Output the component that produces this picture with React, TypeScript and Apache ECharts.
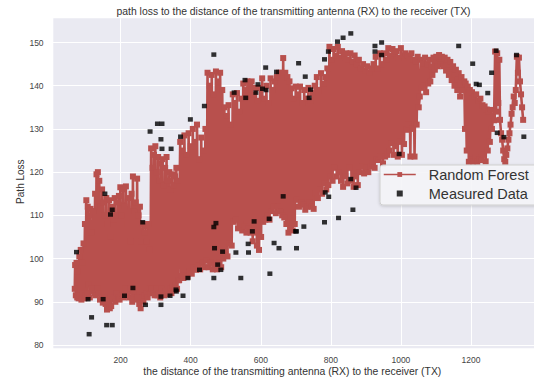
import React, { useEffect, useRef } from 'react';
import * as echarts from 'echarts';

const titleText = 'path loss to the distance of the transmitting antenna (RX) to the receiver (TX)';
const xAxisTitle = 'the distance of the transmitting antenna (RX) to the receiver (TX)';
const yAxisTitle = 'Path Loss';
const seriesNames = ['Random Forest', 'Measured Data'];
const xTickValues = [200, 400, 600, 800, 1000, 1200];
const yTickValues = [80, 90, 100, 110, 120, 130, 140, 150];

// Random Forest prediction, in the order drawn (distance, path loss)
const rfSegA: [number, number][] = [
  [69, 93], [70, 98.5], [72, 91.5], [74, 99], [76, 91], [78, 97], [80, 90.8], [82, 100.5], [84, 91.5], [86, 102],
  [88, 90.5], [90, 99], [92, 92], [94, 103.5], [96, 90.8], [98, 108], [100, 91.5], [102, 113.5], [104, 92], [106, 112],
  [108, 94], [110, 110], [112, 91], [114, 111.5], [116, 93], [118, 106], [120, 92.5], [122, 111], [125, 92], [127, 115],
  [129, 91.5], [131, 119.5], [133, 93], [135, 120], [137, 92], [139, 118], [141, 90.5], [143, 112], [145, 91], [147, 116],
  [149, 89.8], [151, 113], [153, 91], [155, 110], [157, 89.5], [159, 114], [161, 88.2], [163, 108], [165, 90], [167, 113.5],
  [169, 88.5], [171, 105], [173, 89], [175, 112], [177, 90.5], [179, 109], [181, 91], [183, 114], [185, 90], [187, 110],
  [189, 92], [191, 113], [193, 91], [195, 114.5], [197, 90.5], [199, 116.5], [201, 91.5], [203, 110], [205, 92], [207, 116],
  [209, 91], [211, 112], [213, 93], [215, 116.7], [217, 92], [219, 108], [221, 92.5], [223, 114], [225, 91], [227, 104],
  [229, 93], [231, 115], [233, 90], [235, 119], [237, 92], [239, 111], [241, 91], [243, 113], [245, 90.5], [247, 118.5],
  [249, 91], [251, 110], [253, 89.5], [255, 112], [257, 88.5], [259, 104], [261, 91], [263, 108], [265, 90], [267, 106],
  [269, 91.5], [271, 107.5], [273, 92], [275, 104], [277, 91], [279, 108], [281, 93], [283, 102], [285, 92], [287, 125.5],
  [289, 93], [291, 121], [293, 92], [295, 124], [297, 91.5], [299, 126], [301, 93], [303, 120], [305, 91.5], [307, 123.5],
  [309, 92], [311, 118], [313, 91], [315, 122], [317, 93], [319, 123], [321, 92], [323, 117], [325, 91.5], [327, 121],
  [329, 92.5], [331, 123.5], [333, 91.8], [335, 118], [337, 92.5], [339, 120], [341, 93], [343, 116], [345, 92], [347, 119.5],
  [349, 93.5], [351, 117], [353, 92.7], [355, 119], [357, 94], [359, 121], [361, 93], [363, 118], [365, 95]
];
const rfSegB: [number, number][] = [
  [367, 95], [370, 127], [373, 96], [376, 125], [379, 95.5], [382, 128.5], [385, 96], [388, 124], [391, 95.8], [394, 129],
  [397, 97], [400, 126], [403, 96.5], [406, 130], [409, 98], [412, 127], [415, 97.4], [418, 131], [421, 98.5], [424, 123],
  [427, 97.5], [430, 128], [433, 99], [436, 125], [439, 98], [442, 130], [445, 99.5], [448, 143], [451, 98], [454, 140],
  [457, 99], [460, 142.5], [463, 97.5], [466, 138], [469, 98.5], [472, 143.3], [475, 97.5], [478, 141], [481, 99], [484, 143],
  [487, 98], [490, 139], [493, 100], [496, 135], [499, 101], [502, 133], [505, 100.5], [508, 135.5], [511, 103.5], [514, 131],
  [517, 103], [520, 138], [523, 108.5], [526, 136], [529, 109], [532, 138.3], [535, 107], [538, 134], [541, 108], [544, 137],
  [547, 106.5], [550, 140.5], [553, 107.5], [556, 139], [559, 106], [562, 141], [565, 107], [568, 140], [571, 106], [574, 141],
  [577, 104], [580, 138], [583, 106], [586, 139.5], [589, 103], [592, 136.5], [595, 102], [598, 139.5], [601, 105], [604, 141.7],
  [607, 108.5], [610, 137], [613, 109], [616, 140], [619, 110], [622, 136], [625, 109], [628, 141.7], [631, 111], [634, 139],
  [637, 112], [640, 141], [643, 110.5], [646, 142], [649, 112], [652, 143], [655, 111], [658, 143], [661, 110], [664, 146.4],
  [667, 109.5], [670, 143], [673, 108], [676, 142], [679, 106], [682, 141], [685, 107], [688, 139.4], [691, 106.5], [694, 137],
  [697, 108], [700, 139.8]
];
const rfSegC: [number, number][] = [
  [703, 113.6], [706, 138], [709, 112], [712, 139.8], [715, 113], [718, 136], [721, 112.5], [724, 139], [727, 111.3], [730, 137],
  [733, 112], [736, 139.5], [739, 113], [742, 136.5], [745, 112], [748, 138.3], [751, 111.5], [754, 140], [757, 115], [760, 142],
  [763, 114], [766, 139], [769, 116], [772, 142.9], [775, 115], [778, 140.5], [781, 117.4], [784, 142], [787, 116], [790, 144],
  [793, 117], [796, 149], [799, 119], [802, 146], [805, 118], [808, 148.5], [811, 121], [814, 147], [817, 119], [820, 149],
  [823, 120], [826, 146.5], [829, 118], [832, 148], [835, 116.6], [838, 147], [841, 119], [844, 147.5], [847, 117.4], [850, 146],
  [853, 121], [856, 147.5], [859, 118], [862, 145.5], [865, 116.6], [868, 147], [871, 119], [874, 145], [877, 117], [880, 146],
  [883, 120], [886, 144], [889, 121.3], [892, 145], [895, 119.7], [898, 143.5], [901, 121], [904, 144.5], [907, 120], [910, 143],
  [913, 121.3], [916, 144], [919, 122], [922, 145], [925, 121], [928, 146.7], [931, 123], [934, 144], [937, 122.8], [940, 147.5],
  [943, 123.6], [946, 145], [949, 122], [952, 147.5], [955, 123.6], [958, 146], [961, 124], [964, 148.7], [967, 125], [970, 147],
  [973, 126.7], [976, 148.5], [979, 124], [982, 147.5], [985, 126], [988, 148], [991, 123.6], [994, 146.5], [997, 127], [1000, 148.7],
  [1003, 124], [1006, 147], [1009, 126.5], [1012, 147.5]
];
const rfSegD: [number, number][] = [
  [1015, 129.8], [1018, 147], [1021, 131], [1024, 146.5], [1027, 123.6], [1030, 147.5], [1033, 130], [1036, 146], [1039, 123.6], [1042, 145.5],
  [1045, 131], [1048, 146.7], [1051, 135], [1054, 137.5], [1057, 146], [1060, 139.5], [1063, 145.2], [1066, 140], [1069, 146.5], [1072, 138.5],
  [1075, 145], [1078, 140.5], [1081, 146], [1084, 141], [1087, 144.5], [1090, 142.5], [1093, 146.5], [1097, 143.7], [1101, 146.7], [1105, 144.5],
  [1109, 147.1], [1113, 145], [1117, 146.7], [1121, 144.5], [1125, 146.5], [1129, 143.5], [1133, 146], [1137, 142.5], [1141, 145.5], [1145, 141.3],
  [1149, 144.5], [1153, 140], [1157, 143.7], [1161, 139], [1165, 142.9], [1169, 137.5], [1173, 142], [1177, 139], [1181, 141], [1183, 130],
  [1185, 140.5], [1188, 125], [1191, 139.8], [1194, 122.4], [1197, 139], [1200, 123], [1203, 138.5], [1206, 122.4], [1209, 137.5], [1212, 123.5],
  [1215, 138], [1218, 122.4], [1221, 136.5], [1224, 123], [1227, 137], [1230, 122.8], [1233, 135.5], [1236, 124], [1239, 135.2], [1242, 122.5],
  [1245, 134.5], [1248, 125], [1251, 134], [1254, 127], [1257, 134.4], [1260, 130], [1263, 133], [1266, 132], [1269, 147.9], [1272, 134],
  [1275, 147.5], [1278, 136], [1281, 146], [1283, 132.1], [1286, 129], [1289, 127.5], [1292, 125], [1295, 123], [1298, 122.4], [1301, 124],
  [1304, 125.5], [1307, 127.5], [1310, 129], [1313, 131], [1316, 133.5], [1319, 135], [1322, 137.5], [1325, 136], [1328, 139], [1331, 146.7],
  [1334, 143], [1337, 146.5], [1340, 141], [1343, 138], [1346, 135], [1349, 132.1]
];

// Measured data points that show outside the prediction band
const measuredLow: [number, number][] = [
  [74, 101.5], [107, 90.6], [150, 90.6], [211, 91.4], [235, 93.2], [271, 89.3], [315, 91.2], [315, 89.3], [341, 91.4], [358, 92.8],
  [117, 86.4], [160, 84.6], [176, 84.6], [110, 82.5], [378, 91.4], [392, 95.5], [425, 97.4], [466, 95.5], [486, 97.4], [477, 98.6],
  [543, 95.5], [468, 102.4], [491, 101.6], [529, 101.4], [565, 101.4], [576, 106.3], [581, 108.6], [472, 108.2], [466, 107.3], [624, 109.2],
  [564, 103.4], [638, 103.6], [652, 102.4], [702, 102.4], [626, 96.5], [359, 92.4], [664, 114.4], [702, 106.3], [699, 106.3], [723, 107.4],
  [782, 108.4], [822, 109.4], [863, 111.3], [784, 115.3], [794, 114.3], [857, 118.4], [872, 116.4], [995, 124.2], [1275, 129.1], [1294, 128.1],
  [1351, 128.2], [263, 108.4], [176, 111.3], [171, 110.2]
];
const measuredHigh: [number, number][] = [
  [155, 115], [305, 131.2], [318, 131.2], [284, 129.4], [315, 127.6], [318, 125.4], [344, 125.4], [371, 128.2], [399, 132.2], [439, 135.3],
  [466, 147.2], [524, 138.4], [555, 141.3], [557, 137.2], [586, 138.4], [592, 140.3], [605, 139.3], [615, 139], [614, 144.2], [645, 143.2],
  [708, 145.2], [727, 142.1], [742, 139.1], [738, 137.2], [782, 146.1], [793, 147.9], [819, 150.2], [835, 151.1], [857, 152.1], [926, 149.2],
  [926, 147.9], [945, 150], [945, 147.1], [1165, 149.2], [1205, 145.1], [1224, 140.2], [1248, 138.3], [1259, 143], [1272, 148.1], [1330, 147.1],
  [1215, 140.4]
];

const FONT = "'Liberation Sans', Arial, sans-serif";
const RED = '#B8504D';

export default function App() {
  const ref = useRef<HTMLDivElement>(null);
  useEffect(() => {
    if (!ref.current) return;
    const chart = echarts.init(ref.current, null, { renderer: 'svg' });
    const rfData = [...rfSegA, ...rfSegB, ...rfSegC, ...rfSegD];
    const measuredData = [...measuredLow, ...measuredHigh];
    chart.setOption({
      animation: false,
      backgroundColor: '#ffffff',
      textStyle: { fontFamily: FONT },
      title: {
        text: titleText,
        left: 293.5,
        top: 6,
        textAlign: 'center',
        padding: 0,
        textStyle: { fontSize: 10.4, fontWeight: 'normal', color: '#333', fontFamily: FONT }
      },
      graphic: [
        {
          type: 'rect',
          z: -10,
          silent: true,
          shape: { x: 53.3, y: 18.3, width: 534 - 53.3, height: 348.3 - 18.3 },
          style: { fill: '#EAEAF2' }
        }
      ],
      grid: { left: 50.6, right: 0, top: 18.3, bottom: 34, outerBoundsMode: 'none', containLabel: false },
      legend: {
        data: [
          { name: seriesNames[0] },
          { name: seriesNames[1], icon: 'path://M0,0h6v6h-6z' }
        ],
        orient: 'vertical',
        left: 380,
        top: 165,
        padding: [2, 14, 4, 3],
        itemGap: 4,
        itemWidth: 32,
        itemHeight: 6,
        symbolKeepAspect: true,
        lineStyle: { width: 1.5 },
        backgroundColor: 'rgba(246,246,249,0.9)',
        borderColor: '#cfcfcf',
        borderWidth: 1,
        borderRadius: 3,
        shadowColor: 'rgba(0,0,0,0.18)',
        shadowBlur: 3,
        shadowOffsetY: 1,
        textStyle: { fontSize: 14.5, color: '#333', fontFamily: FONT, padding: [0, 0, 0, 8] }
      },
      xAxis: {
        type: 'value',
        min: 0,
        max: 1380,
        interval: 200,
        axisLine: { show: false },
        axisTick: { show: false },
        axisLabel: {
          margin: 10,
          fontSize: 8.5,
          color: '#444',
          fontFamily: FONT,
          formatter: (v: number) => (xTickValues.includes(v) ? String(v) : '')
        },
        splitLine: { show: true, showMinLine: false, showMaxLine: false, lineStyle: { color: '#ffffff', width: 1 } },
        name: xAxisTitle,
        nameLocation: 'middle',
        nameGap: 21,
        nameMoveOverlap: false,
        nameTextStyle: { fontSize: 10.4, color: '#333', fontFamily: FONT }
      },
      yAxis: {
        type: 'value',
        min: 80,
        max: 155.6,
        interval: 10,
        axisLine: { show: false },
        axisTick: { show: false },
        axisLabel: {
          margin: 7,
          fontSize: 8.5,
          color: '#444',
          fontFamily: FONT,
          formatter: (v: number) => (yTickValues.includes(v) ? String(v) : '')
        },
        splitLine: { show: true, showMaxLine: false, lineStyle: { color: '#ffffff', width: 1 } },
        name: yAxisTitle,
        nameLocation: 'middle',
        nameGap: 25,
        nameMoveOverlap: false,
        nameTextStyle: { fontSize: 10, color: '#333', fontFamily: FONT }
      },
      series: [
        {
          name: seriesNames[0],
          type: 'line',
          data: rfData,
          symbol: 'rect',
          symbolSize: 6,
          showSymbol: true,
          showAllSymbol: true,
          lineStyle: { color: RED, width: 2.6 },
          itemStyle: { color: RED },
          z: 2
        },
        {
          name: seriesNames[1],
          type: 'scatter',
          data: measuredData,
          symbol: 'rect',
          symbolSize: [5, 4.5],
          itemStyle: { color: '#000000' },
          z: 3
        }
      ]
    });
    return () => chart.dispose();
  }, []);
  return <div ref={ref} style={{ position: 'absolute', left: 0, top: 0, width: 534, height: 379 }} />;
}
